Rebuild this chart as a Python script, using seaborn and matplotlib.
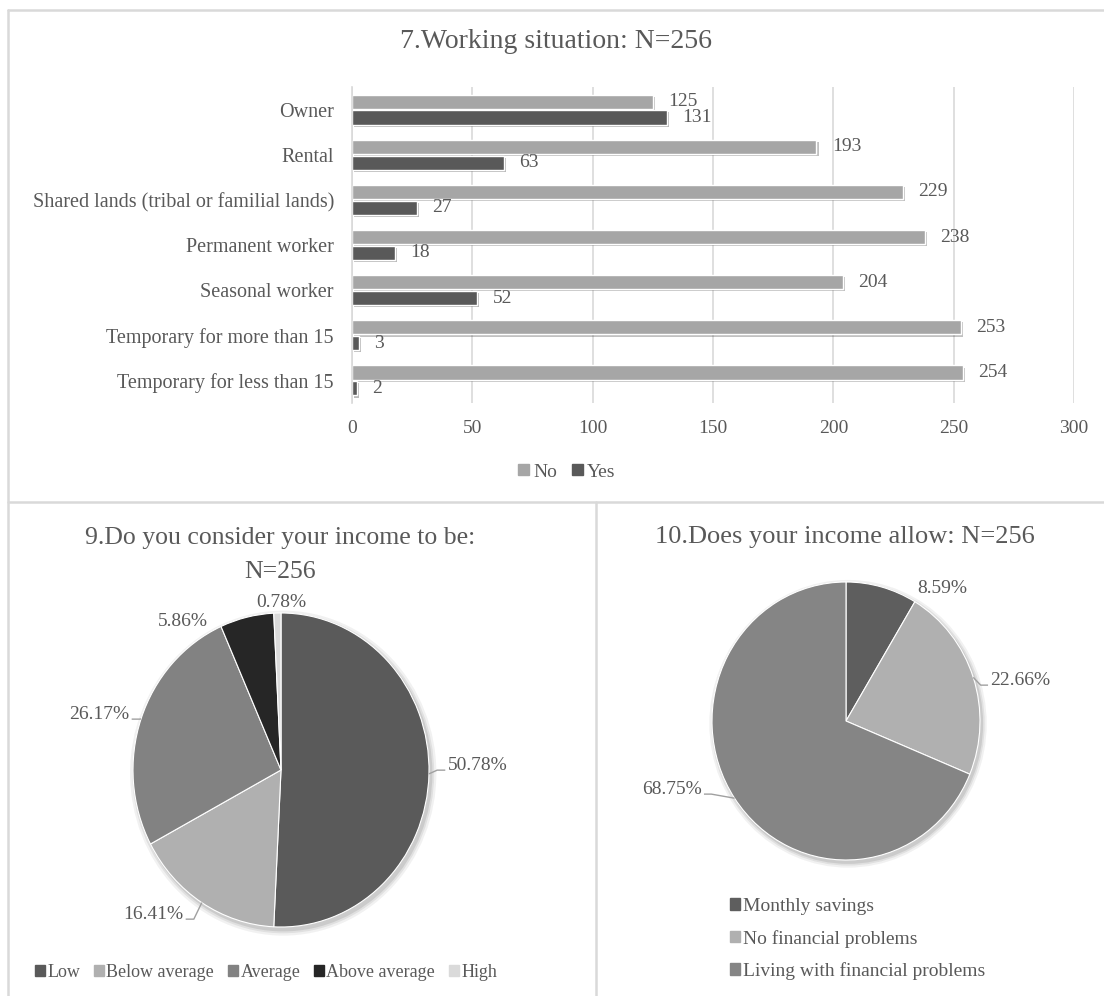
import matplotlib
matplotlib.use("Agg")
import matplotlib.pyplot as plt
import matplotlib.patheffects as pe
from matplotlib.patches import Patch, Ellipse
from matplotlib.lines import Line2D
import numpy as np
import pandas as pd
import seaborn as sns

# ---- data -------------------------------------------------------------
situations = [
    "Owner",
    "Rental",
    "Shared lands (tribal or familial lands)",
    "Permanent worker",
    "Seasonal worker",
    "Temporary for more than 15",
    "Temporary for less than 15",
]
no_counts = [125, 193, 229, 238, 204, 253, 254]
yes_counts = [131, 63, 27, 18, 52, 3, 2]
x_ticks = [0, 50, 100, 150, 200, 250, 300]

income_levels = ["Low", "Below average", "Average", "Above average", "High"]
income_pct = [50.78, 16.41, 26.17, 5.86, 0.78]

allow_levels = ["Monthly savings", "No financial problems",
                "Living with financial problems"]
allow_pct = [8.59, 22.66, 68.75]

# ---- styling ------------------------------------------------------------
W, H = 1104, 996
sns.set_theme(style="white")
plt.rcParams["font.family"] = ["Liberation Serif", "DejaVu Serif"]
TEXT = "#595959"
GRID = "#d9d9d9"
bar_colors = {"No": "#a6a6a6", "Yes": "#595959"}
income_colors = ["#5a5a5a", "#b0b0b0", "#828282", "#262626", "#dadada"]
allow_colors = ["#5e5e5e", "#b0b0b0", "#858585"]

fig = plt.figure(figsize=(W / 100, H / 100), dpi=100)
fig.patch.set_facecolor("white")


def px_rect(x0, y0, x1, y1):
    """Figure-fraction rectangle from pixel box (origin top-left)."""
    return [x0 / W, 1 - y1 / H, (x1 - x0) / W, (y1 - y0) / H]


def fx(x):
    return x / W


def fy(y):
    return 1 - y / H


# panel frames
for xs, ys in [((8, W), (10, 10)), ((8, 8), (10, H)),
               ((8, W), (502, 502)), ((596, 596), (502, H))]:
    fig.add_artist(Line2D([fx(v) for v in xs], [fy(v) for v in ys],
                          color=GRID, lw=1.8))

# ---- 7. working situation (grouped horizontal bars) -----------------------
df = pd.DataFrame({
    "situation": situations * 2,
    "response": ["No"] * len(situations) + ["Yes"] * len(situations),
    "count": no_counts + yes_counts,
})
ax = fig.add_axes(px_rect(352, 87, 1074, 403))
sns.barplot(data=df, y="situation", x="count", hue="response", orient="h",
            palette=bar_colors, width=0.7, gap=0.1, saturation=1,
            legend=False, ax=ax)
shadow = [pe.SimplePatchShadow(offset=(1.5, -1.5), alpha=0.3), pe.Normal()]
for bar in ax.patches:
    bar.set_path_effects(shadow)
for cont in ax.containers:
    ax.bar_label(cont, padding=11, fontsize=14, color=TEXT)
ax.set_xlim(x_ticks[0], x_ticks[-1])
ax.set_xticks(x_ticks)
ax.set_xlabel("")
ax.set_ylabel("")
ax.grid(axis="x", color=GRID, lw=1.2)
ax.grid(axis="y", visible=False)
ax.set_axisbelow(True)
for side in ["top", "right", "bottom"]:
    ax.spines[side].set_visible(False)
ax.spines["left"].set_color(GRID)
ax.spines["left"].set_linewidth(1.2)
ax.tick_params(axis="y", length=0, pad=13, labelsize=14.5, labelcolor=TEXT)
ax.tick_params(axis="x", length=0, pad=12, labelsize=14, labelcolor=TEXT)

fig.text(fx(556), fy(42), "7.Working situation: N=256", ha="center",
         va="center", fontsize=20, color=TEXT)
fig.legend(handles=[Patch(color=bar_colors[k]) for k in ["No", "Yes"]],
           labels=["No", "Yes"], loc="center", ncol=2, frameon=False,
           bbox_to_anchor=(fx(567), fy(472)), fontsize=14, labelcolor=TEXT,
           handlelength=0.55, handleheight=0.55, handletextpad=0.2,
           columnspacing=0.8)


# ---- pie helpers ----------------------------------------------------------
def draw_pie(cx, cy, rx, ry, box, values, colors):
    a = fig.add_axes(px_rect(cx - box, cy - box, cx + box, cy + box))
    for k, al in [(1.035, 0.06), (1.02, 0.08), (1.008, 0.10)]:
        a.add_patch(Ellipse((0.015, -0.02), 2 * k, 2 * k, color="k",
                            alpha=al, lw=0, zorder=0))
    wedges, _ = a.pie(values, colors=colors, startangle=90,
                      counterclock=False,
                      wedgeprops=dict(edgecolor="white", linewidth=0.8))
    a.set_aspect("auto")
    a.set_xlim(-box / rx, box / rx)
    a.set_ylim(-box / ry, box / ry)
    a.axis("off")
    return a, wedges


def label_pie(a, values, anchors):
    total = sum(values)
    start = 90.0
    for v, (lx, ly, ha) in zip(values, anchors):
        mid = np.deg2rad(start - 360 * (v / total) / 2)
        start -= 360 * v / total
        ex, ey = np.cos(mid), np.sin(mid)
        a.text(lx, ly, f"{v:.2f}%", ha=ha, va="center", fontsize=14,
               color=TEXT)
        if ha != "center":
            sgn = 1 if ha == "left" else -1
            a.plot([lx - sgn * 0.015, lx - sgn * 0.07, ex],
                   [ly - 0.03, ly - 0.03, ey],
                   color="#a0a0a0", lw=1.0, solid_capstyle="butt")


# ---- 9. income perception --------------------------------------------------
ax1, _ = draw_pie(281, 770, 148, 157, 200, income_pct, income_colors)
label_pie(ax1, income_pct, [
    (1.125, 0.029, "left"),
    (-0.659, -0.92, "right"),
    (-1.024, 0.354, "right"),
    (-0.666, 0.946, "center"),
    (0.0, 1.067, "center"),
])
fig.text(fx(280), fy(538), "9.Do you consider your income to be:",
         ha="center", va="center", fontsize=18.5, color=TEXT)
fig.text(fx(280), fy(572), "N=256",
         ha="center", va="center", fontsize=18.5, color=TEXT)
fig.legend(handles=[Patch(color=c) for c in income_colors],
           labels=income_levels, loc="center", ncol=5, frameon=False,
           bbox_to_anchor=(fx(266), fy(972)), fontsize=13, labelcolor=TEXT,
           handlelength=0.55, handleheight=0.55, handletextpad=0.15,
           columnspacing=0.75)

# ---- 10. what income allows ----------------------------------------------
ax2, _ = draw_pie(846, 721, 134, 139, 180, allow_pct, allow_colors)
label_pie(ax2, allow_pct, [
    (0.716, 0.95, "center"),
    (1.075, 0.288, "left"),
    (-1.075, -0.496, "right"),
])
fig.text(fx(845), fy(537), "10.Does your income allow: N=256",
         ha="center", va="center", fontsize=19, color=TEXT)
fig.legend(handles=[Patch(color=c) for c in allow_colors],
           labels=allow_levels, loc="center left", ncol=1, frameon=False,
           bbox_to_anchor=(fx(712), fy(939)), fontsize=14, labelcolor=TEXT,
           handlelength=0.55, handleheight=0.55, handletextpad=0.15,
           labelspacing=0.75)

fig.savefig("out.png", dpi=100, facecolor="white")
